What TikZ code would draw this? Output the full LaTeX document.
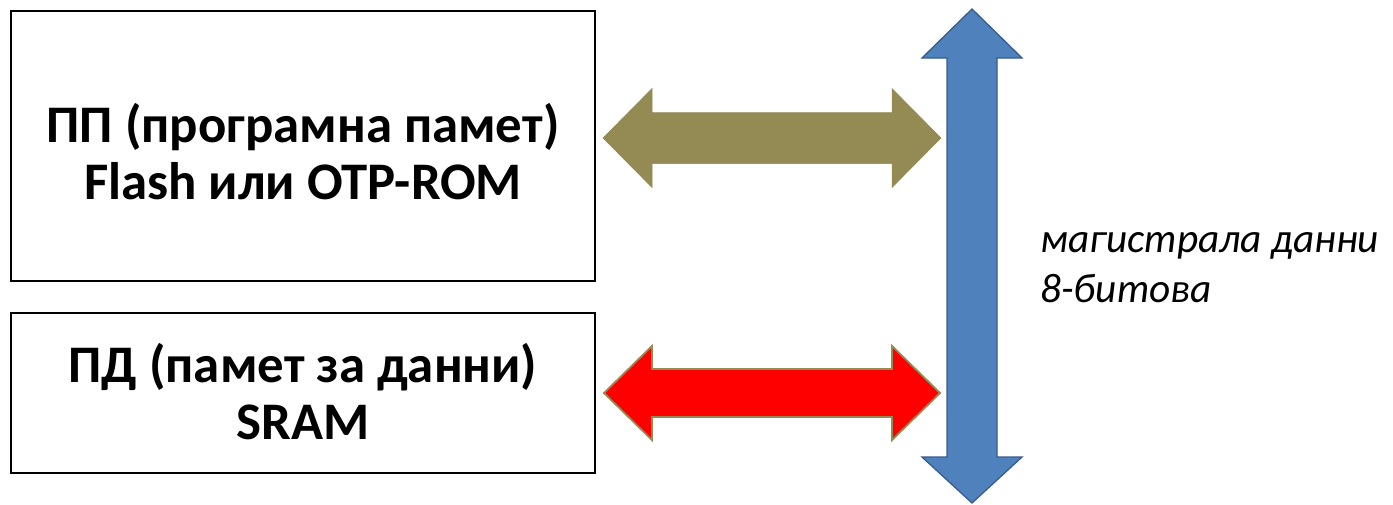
\documentclass[tikz,border=0pt]{standalone}
\usepackage{fontspec}
\setmainfont{Carlito}
\usetikzlibrary{calc}
\definecolor{olivearrow}{HTML}{948A54}
\definecolor{busblue}{HTML}{4F81BD}
\definecolor{busedge}{HTML}{385D8A}
\begin{document}
\begin{tikzpicture}[x=1pt,y=-1pt,
  membox/.style={draw=black, line width=1.6pt, fill=white, inner sep=0pt},
  boxtext/.style={font=\bfseries\fontsize{52.8}{57}\selectfont, align=center, inner sep=0pt},
  bustext/.style={font=\itshape\fontsize{41.3}{50}\selectfont, align=left, inner sep=0pt, anchor=west},
  oliveband/.style={fill=olivearrow, draw=olivearrow, line width=0.5pt, line join=miter},
  redband/.style={fill=red, draw=olivearrow, line width=1.8pt, line join=miter},
  busband/.style={fill=busblue, draw=busedge, line width=1.3pt, line join=miter}]
\useasboundingbox (0,0) rectangle (1393,504);
\fill[white] (0,0) rectangle (1393,504);
% memory boxes
\node[membox, minimum width=584pt, minimum height=270pt] (pp) at (303,146) {};
\node[membox, minimum width=584pt, minimum height=160pt] (pd) at (303,393) {};
\node[boxtext] (pptext) at (303,152) {ПП (програмна памет)\\Flash или OTP-ROM};
\node[boxtext] (pdtext) at (303,392) {ПД (памет за данни)\\SRAM};
% bus arrow
\coordinate (bustop) at (972,9);
\coordinate (busbot) at (972,503);
\draw[busband] (bustop) -- ($(bustop)+(50,49)$) -- ($(bustop)+(25,49)$)
  -- ($(busbot)+(25,-46)$) -- ($(busbot)+(50,-46)$) -- (busbot)
  -- ($(busbot)+(-50,-46)$) -- ($(busbot)+(-25,-46)$)
  -- ($(bustop)+(-25,49)$) -- ($(bustop)+(-50,49)$) -- cycle;
% program memory arrow
\coordinate (a1) at (603,138);
\coordinate (a2) at (941,138);
\draw[oliveband] (a1) -- ($(a1)+(49,-49.5)$) -- ($(a1)+(49,-25.5)$)
  -- ($(a2)+(-49,-25.5)$) -- ($(a2)+(-49,-49.5)$) -- (a2)
  -- ($(a2)+(-49,49.5)$) -- ($(a2)+(-49,25.5)$)
  -- ($(a1)+(49,25.5)$) -- ($(a1)+(49,49.5)$) -- cycle;
% data memory arrow
\coordinate (b1) at (604,393);
\coordinate (b2) at (940,393);
\draw[redband] (b1) -- ($(b1)+(48,-47)$) -- ($(b1)+(48,-24)$)
  -- ($(b2)+(-48,-24)$) -- ($(b2)+(-48,-47)$) -- (b2)
  -- ($(b2)+(-48,47)$) -- ($(b2)+(-48,24)$)
  -- ($(b1)+(48,24)$) -- ($(b1)+(48,47)$) -- cycle;
% bus label
\node[bustext] (buslabel) at (1040,268) {магистрала данни\\8-битова};
\end{tikzpicture}
\end{document}
